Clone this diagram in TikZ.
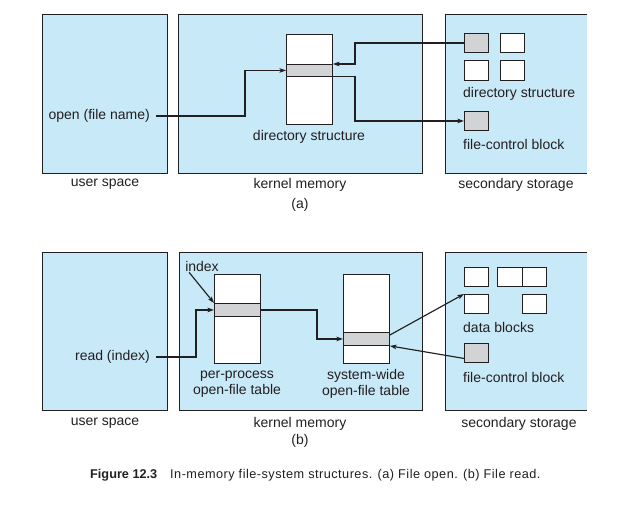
\documentclass[tikz,border=0pt]{standalone}
\usepackage{fontspec}
\setmainfont{Liberation Sans}
\usetikzlibrary{arrows.meta,calc}
\definecolor{panel}{RGB}{200,233,248}
\definecolor{band}{RGB}{210,211,213}
\definecolor{ink}{RGB}{35,31,32}
\begin{document}
\begin{tikzpicture}[x=1pt,y=-1pt,
  every node/.style={text=ink},
  font=\fontsize{14}{16}\selectfont,
  panelbox/.style={draw=ink, fill=panel, line width=0.9pt, inner sep=0pt, anchor=north west},
  panelfill/.style={fill=panel, inner sep=0pt, anchor=north west},
  tablebox/.style={draw=ink, fill=white, line width=0.9pt, inner sep=0pt, anchor=north west, minimum width=46pt},
  bandbox/.style={draw=ink, fill=band, line width=0.9pt, inner sep=0pt, anchor=north west, minimum width=46pt},
  blockw/.style={draw=ink, fill=white, line width=0.9pt, inner sep=0pt, anchor=north west, minimum width=24pt, minimum height=19pt},
  blockg/.style={blockw, fill=band},
  conn/.style={draw=ink, line width=1.15pt, -{Stealth[length=6.5pt,width=4.5pt,inset=1.5pt]}},
  lbl/.style={inner sep=0pt},
  edge3/.style={draw=ink, line width=0.9pt}]
\useasboundingbox (0,0) rectangle (640,511);

% ---------- (a) ----------
\node[panelbox, minimum width=125pt, minimum height=159pt] (usA) at (42,14) {};
\node[panelbox, minimum width=244pt, minimum height=159pt] (kmA) at (178,14) {};
\node[panelfill, minimum width=142pt, minimum height=159pt] (ssA) at (445,14) {};
\draw[edge3] (ssA.north east) -- (ssA.north west) -- (ssA.south west) -- (ssA.south east);

\node[tablebox, minimum height=90pt] (tabA) at (286,34) {};
\node[bandbox, minimum height=12pt] (bandA) at (286,64) {};
\node[lbl] (dsA) at (309,137) {directory structure};

\node[blockg] (dA1) at (464,33) {};
\node[blockw] (dA2) at (500,33) {};
\node[blockw, minimum height=20pt] (dA3) at (464,60) {};
\node[blockw, minimum height=20pt] (dA4) at (500,60) {};
\node[lbl, anchor=west] (dslA) at (463,94) {directory structure};
\node[blockg] (fcbA) at (464,111) {};
\node[lbl, anchor=west] (fclA) at (463,144) {file-control block};

\node[lbl, anchor=east] (ofn) at (150,116) {open (file name)};

\node[lbl] (usAl) at (105,184.5) {user space};
\node[lbl] (kmAl) at (300,184.5) {kernel memory};
\node[lbl] (ssAl) at (516,184.5) {secondary storage};
\node[lbl] (capA) at (300,205) {(a)};

\coordinate (ja) at (245,0);
\coordinate (jb) at (355,0);
\draw[conn] ([xshift=6pt]ofn.east) -- (ofn.east -| ja) |- (bandA.west);
\draw[conn] (dA1.west) -- (dA1.west -| jb) |- (bandA.north east);
\draw[conn] (bandA.south east) -- (bandA.south east -| jb) |- (fcbA.west);

% ---------- (b) ----------
\node[panelbox, minimum width=125pt, minimum height=158pt] (usB) at (42,252) {};
\node[panelbox, minimum width=243pt, minimum height=158pt] (kmB) at (179,252) {};
\node[panelfill, minimum width=142pt, minimum height=158pt] (ssB) at (445,252) {};
\draw[edge3] (ssB.north east) -- (ssB.north west) -- (ssB.south west) -- (ssB.south east);

\node[tablebox, minimum height=89pt] (tabP) at (214,274) {};
\node[bandbox, minimum height=13pt] (bandP) at (214,303) {};
\node[tablebox, minimum height=89pt] (tabS) at (343,274) {};
\node[bandbox, minimum height=13pt] (bandS) at (343,332) {};

\node[lbl, align=center] (ppl) at (237,384) {per-process\\open-file table};
\node[lbl, align=center] (swl) at (366,384) {system-wide\\open-file table};
\node[lbl] (idx) at (202,266) {index};
\node[lbl, anchor=east] (rix) at (150,357) {read (index)};

\node[blockw] (db1) at (464,267) {};
\node[blockw, minimum width=25pt] (db2) at (497,267) {};
\node[blockw] (db3) at (522,267) {};
\node[blockw] (db4) at (464,294) {};
\node[blockw] (db5) at (522,294) {};
\node[lbl, anchor=west] (dbl) at (463,327) {data blocks};
\node[blockg] (fcbB) at (464,343) {};
\node[lbl, anchor=west] (fclB) at (463,377) {file-control block};

\node[lbl] (usBl) at (105,423.5) {user space};
\node[lbl] (kmBl) at (300,423.5) {kernel memory};
\node[lbl] (ssBl) at (519,423.5) {secondary storage};
\node[lbl] (capB) at (300,441) {(b)};

\coordinate (jc) at (196,0);
\coordinate (jd) at (317,0);
\draw[conn] ([xshift=6pt]rix.east) -- (rix.east -| jc) |- (bandP.west);
\draw[conn] (bandP.east) -- (bandP.east -| jd) |- (bandS.west);
\draw[conn] ([yshift=-3pt]bandS.north east) -- (db4.north west);
\draw[conn] ([yshift=-5.5pt]fcbB.west) -- (bandS.south east);
\draw[conn] ([xshift=4pt,yshift=-1pt]idx.south west) -- (bandP.north west);

% ---------- caption ----------
\node[lbl, anchor=west, font=\fontsize{12.7}{15}\selectfont\bfseries] (figno) at (90,475) {Figure 12.3};
\node[lbl, anchor=west, font=\fontsize{12.7}{15}\selectfont\addfontfeatures{LetterSpace=3.8}] (figcap) at (170,475) {In-memory file-system structures. (a) File open. (b) File read.};
\end{tikzpicture}
\end{document}
